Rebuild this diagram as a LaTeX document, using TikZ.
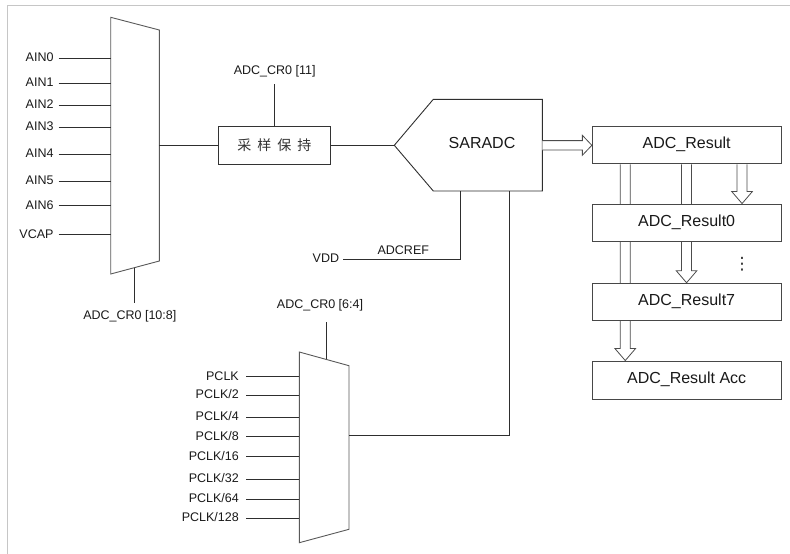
\documentclass[tikz,border=0pt]{standalone}
\usepackage{fontspec}
\setmainfont{Liberation Sans}
\newfontfamily\cjk{Noto Sans CJK SC}
\newfontfamily\djv{DejaVu Sans}
\usetikzlibrary{calc,backgrounds}
\tikzset{
  ln/.style={draw=black!82, line width=0.9pt},
  muxshape/.style={draw=black!65, line width=0.9pt, fill=white},
  lbl/.style={font=\fontsize{12.5}{14}\selectfont, inner ysep=0pt, inner xsep=0pt, text=black!90, text height=0.716em, text depth=0pt},
  inlbl/.style={lbl, inner xsep=5pt, anchor=east},
  rbox/.style={draw=black!72, line width=0.9pt, fill=white, minimum width=188.7pt, minimum height=37pt, inner sep=0pt, font=\fontsize{16}{18}\selectfont, text=black!90, text height=0.716em, text depth=0pt},
  shbox/.style={draw=black!80, line width=0.9pt, fill=white, minimum width=112pt, minimum height=37.5pt, inner sep=0pt, font=\cjk\fontsize{14}{16}\selectfont, text=black!80},
  harrow/.style={draw=black!70, line width=0.8pt, fill=white},
}
\newcommand\hollowright[2]{%
  \draw[harrow] let \p1=(#1), \p2=(#2) in
    (\x1,\y1+4.7pt) -- (\x2-9.5pt,\y1+4.7pt) -- (\x2-9.5pt,\y1+10pt) -- (\x2,\y1)
    -- (\x2-9.5pt,\y1-10pt) -- (\x2-9.5pt,\y1-4.7pt) -- (\x1,\y1-4.7pt);}
\newcommand\hollowdown[2]{%
  \draw[harrow] let \p1=(#1), \p2=(#2) in
    (\x1-5pt,\y1) -- (\x1-5pt,\y2+12pt) -- (\x1-10.3pt,\y2+12pt) -- (\x1,\y2)
    -- (\x1+10.3pt,\y2+12pt) -- (\x1+5pt,\y2+12pt) -- (\x1+5pt,\y1);}
\begin{document}
\begin{tikzpicture}[x=1pt,y=-1pt]
\useasboundingbox (0,0) rectangle (790,554);
% frame
\draw[gray!45, line width=1.5pt] (7.5,554) -- (7.5,5.5) -- (790,5.5);

% ---------- input multiplexer ----------
\coordinate (m1a) at (110.7,17.3);
\coordinate (m1b) at (159.3,30);
\coordinate (m1c) at (159.3,261);
\coordinate (m1d) at (110.7,274);
\draw[muxshape] (m1a) -- (m1b) -- (m1c) -- (m1d) -- cycle;

\foreach \n/\t/\y in {0/AIN0/58.3, 1/AIN1/83.3, 2/AIN2/105.3, 3/AIN3/127, 4/AIN4/154.3, 5/AIN5/181.3, 6/AIN6/205.7, 7/VCAP/234.7}{
  \node[inlbl] (ain\n) at (58.7,\y) {\t};
  \coordinate (m1i\n) at (110.7,\y);
  \draw[ln] (ain\n.east) -- (m1i\n);
}
\node[lbl] (cr108) at (129.8,316) {ADC\_CR0 [10:8]};
\coordinate (m1ctl) at (134.5,267.7);
\coordinate (m1ctlend) at (134.5,303.3);
\draw[ln] (m1ctl) -- (m1ctlend);

% ---------- sample and hold ----------
\node[shbox] (sh) at (274.3,145.3) {采\hspace{6pt}样\hspace{6pt}保\hspace{6pt}持};
\coordinate (m1out) at (159.3,145.3);
\draw[ln] (m1out) -- (sh.west);
\node[lbl] (cr11) at (274.7,70.7) {ADC\_CR0 [11]};
\coordinate (shctl) at (274.3,84);
\draw[ln] (sh.north) -- (shctl);

% ---------- SARADC ----------
\coordinate (sT) at (394.3,145.3);
\coordinate (sUL) at (433.3,99.3);
\coordinate (sUR) at (542.3,99.3);
\coordinate (sLR) at (542.3,191);
\coordinate (sLL) at (433.3,191);
\draw[ln] (sT) -- (sUL) -- (sUR) -- (sLR) -- (sLL) -- cycle;
\node[font=\fontsize{16}{18}\selectfont, text=black!90, inner sep=0pt, text height=0.716em, text depth=0pt] (sar) at (482,145.3) {SARADC};
\draw[ln] (sh.east) -- (sT);

% reference
\node[inlbl, inner xsep=4pt] (vdd) at (343.3,259) {VDD};
\node[lbl] (adcref) at (403.3,251.3) {ADCREF};
\coordinate (sB1) at (460,191);
\draw[ln] (sB1) |- (vdd.east);

% ---------- clock multiplexer ----------
\coordinate (m2a) at (299.3,352);
\coordinate (m2b) at (349,365.7);
\coordinate (m2c) at (349,529.3);
\coordinate (m2d) at (299.3,542.7);
\draw[muxshape] (m2a) -- (m2b) -- (m2c) -- (m2d) -- cycle;
\node[inlbl, inner xsep=7pt] (pc0) at (246,376.7) {PCLK};
\node[inlbl, inner xsep=7pt] (pc1) at (246,395.3) {PCLK/2};
\node[inlbl, inner xsep=7pt] (pc2) at (246,417) {PCLK/4};
\node[inlbl, inner xsep=7pt] (pc3) at (246,436.7) {PCLK/8};
\node[inlbl, inner xsep=7pt] (pc4) at (246,456.7) {PCLK/16};
\node[inlbl, inner xsep=7pt] (pc5) at (246,479.3) {PCLK/32};
\node[inlbl, inner xsep=7pt] (pc6) at (246,499) {PCLK/64};
\node[inlbl, inner xsep=7pt] (pc7) at (246,518.3) {PCLK/128};
\foreach \n in {0,...,7}{
  \draw[ln] (pc\n.east) -- (pc\n.east -| m2a);
}
\node[lbl] (cr64) at (320,305) {ADC\_CR0 [6:4]};
\coordinate (m2ctl) at (326.7,359.3);
\coordinate (m2ctlend) at (326.7,322.3);
\draw[ln] (m2ctl) -- (m2ctlend);
\coordinate (sB2) at (509.3,191);
\coordinate (m2out) at (349,435.7);
\draw[ln] (sB2) |- (m2out);

% ---------- result registers ----------
\node[rbox] (r)   at (686.65,145.3) {ADC\_Result};
\node[rbox] (r0)  at (686.65,222.5) {ADC\_Result0};
\node[rbox] (r7)  at (686.65,301.7) {ADC\_Result7};
\node[rbox, minimum height=38pt] (acc) at (686.65,380) {ADC\_Result Acc};
\node[font=\djv\fontsize{17}{18}\selectfont, inner sep=0pt, text=black!85] (dots) at (742,264) {⋮};

\coordinate (sE) at (542.3,145.3);
\hollowright{sE}{r.west}

\begin{pgfonlayer}{background}
  \hollowdown{$(r.south west)+(33.4,0)$}{$(acc.north west)+(33.4,0)$}
  \hollowdown{$(r.south west)+(94.7,0)$}{$(r7.north west)+(94.7,0)$}
  \hollowdown{$(r.south west)+(150.2,0)$}{$(r0.north west)+(150.2,0)$}
\end{pgfonlayer}
\end{tikzpicture}
\end{document}
